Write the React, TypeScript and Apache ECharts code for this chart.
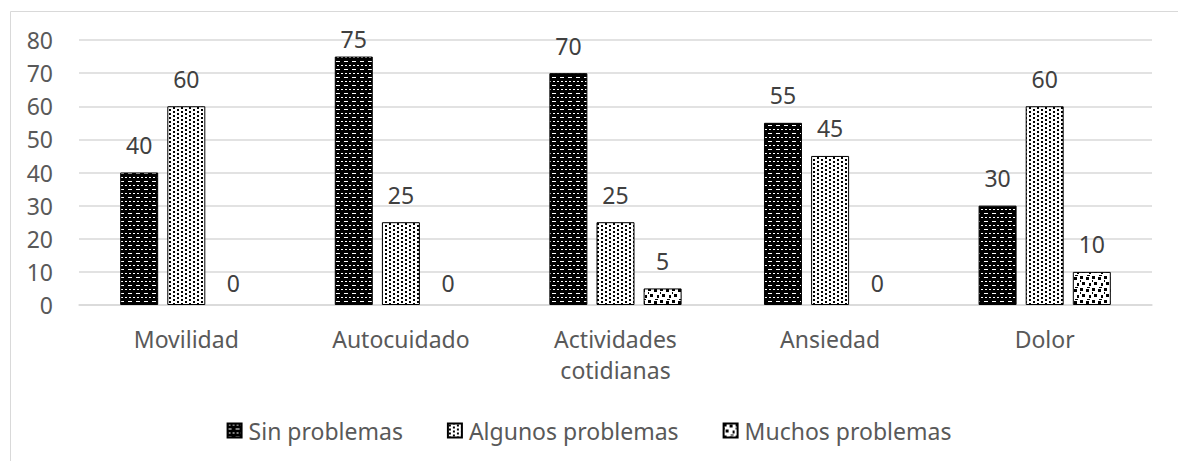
import React, { useEffect, useRef } from "react";
import * as echarts from "echarts";

const categories = ["Movilidad", "Autocuidado", "Actividades\ncotidianas", "Ansiedad", "Dolor"];
const seriesNames = ["Sin problemas", "Algunos problemas", "Muchos problemas"];
const sinProblemas = [40, 75, 70, 55, 30];
const algunosProblemas = [60, 25, 25, 45, 60];
const muchosProblemas = [0, 0, 5, 0, 10];
const yTicks = { min: 0, max: 80, interval: 10 };

function makeTile(bg: string, fg: string, rects: number[][], w = 8, h = 8): string {
  const c = document.createElement("canvas");
  c.width = w;
  c.height = h;
  const ctx = c.getContext("2d")!;
  ctx.fillStyle = bg;
  ctx.fillRect(0, 0, w, h);
  ctx.fillStyle = fg;
  rects.forEach(([x, y, rw, rh]) => ctx.fillRect(x, y, rw, rh));
  return c.toDataURL();
}

export default function App() {
  const ref = useRef<HTMLDivElement>(null);
  useEffect(() => {
    if (!ref.current) return;
    const chart = echarts.init(ref.current, undefined, { renderer: "svg" });
    const p1 = makeTile("#000000", "#ffffff", [
      [1, 1, 2, 1],
      [5, 1, 2, 1],
      [0, 5, 4, 1],
    ]);
    const p2 = makeTile("#ffffff", "#000000", [
      [1, 1, 2, 2],
      [5, 3, 2, 2],
      [1, 5, 2, 2],
      [5, 7, 2, 1],
      [5, 0, 2, 1],
    ]);
    const p3 = makeTile("#ffffff", "#000000", [
      [0, 0, 3, 3],
      [6, 1, 3, 3],
      [2, 6, 3, 3],
      [9, 7, 2, 3],
      [0, 4, 1, 2],
      [7, 11, 3, 1],
    ], 12, 12);
    const patterns = [p1, p2, p3];
    const dataSets = [sinProblemas, algunosProblemas, muchosProblemas];
    const font = "'Noto Sans', sans-serif";
    const fs = 23;
    const plotTop = 40;
    const plotBottom = 305;
    const pxPerUnit = (plotBottom - plotTop) / (yTicks.max - yTicks.min);
    const baseDist = 16;
    const labelOffset = 26; // px from bar top to label centre
    const itemFor = (v: number) => {
      const item: any = { value: v };
      if (v === 0) {
        item.itemStyle = { borderWidth: 0, opacity: 0 };
        item.label = { distance: baseDist - 5 };
      }
      const topPx = plotBottom - v * pxPerUnit;
      const over = plotTop - (topPx - labelOffset);
      if (over > 0) item.label = { distance: baseDist - over };
      return item;
    };
    chart.setOption({
      animation: false,
      backgroundColor: "#ffffff",
      textStyle: { fontFamily: font },
      graphic: [
        {
          type: "rect",
          shape: { x: 10.5, y: 11.5, width: 1200, height: 500 },
          style: { fill: "none", stroke: "#d9d9d9", lineWidth: 1 },
          silent: true,
        },
      ],
      grid: { left: 79, right: 26, top: plotTop, bottom: 461 - plotBottom },
      legend: {
        top: 414,
        left: "center",
        itemWidth: 14,
        itemHeight: 14,
        itemGap: 44,
        icon: "rect",
        textStyle: { color: "#595959", fontSize: fs, fontFamily: font, padding: [0, 0, 0, 2] },
        data: seriesNames,
      },
      xAxis: {
        type: "category",
        data: categories,
        axisLine: { lineStyle: { color: "#d9d9d9", width: 1.5 } },
        axisTick: { show: false },
        axisLabel: { color: "#595959", fontSize: fs, margin: 18, lineHeight: 31, fontFamily: font },
      },
      yAxis: {
        type: "value",
        min: yTicks.min,
        max: yTicks.max,
        interval: yTicks.interval,
        axisLine: { show: false },
        axisTick: { show: false },
        axisLabel: { color: "#595959", fontSize: fs, margin: 26, fontFamily: font },
        splitLine: { lineStyle: { color: "#d9d9d9", width: 1.5 } },
      },
      series: seriesNames.map((name, i) => ({
        name,
        type: "bar",
        data: dataSets[i].map(itemFor),
        barWidth: 38,
        barGap: "24%",
        itemStyle: {
          color: { image: patterns[i], repeat: "repeat" },
          borderColor: "#000000",
          borderWidth: 1,
        },
        label: {
          show: true,
          position: "top",
          distance: baseDist,
          color: "#404040",
          fontSize: fs,
          fontFamily: font,
          opacity: 1,
        },
      })),
    });
    return () => chart.dispose();
  }, []);
  return (
    <div
      ref={ref}
      style={{ position: "fixed", left: 0, top: 0, width: 1178, height: 461 }}
    />
  );
}
